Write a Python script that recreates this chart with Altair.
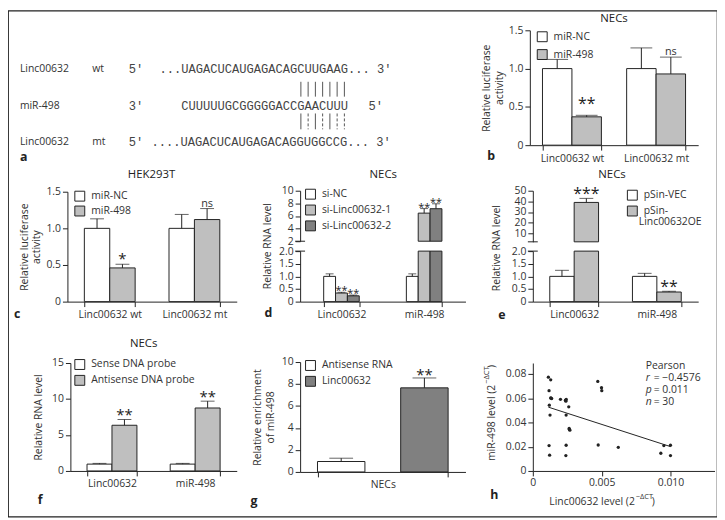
import altair as alt
import pandas as pd

# ---------------- data ----------------
b_cats = ["Linc00632 wt", "Linc00632 mt"]
b_series = ["miR-NC", "miR-498"]
b_vals = [1.00, 0.37, 1.00, 0.93]
b_errs = [0.12, 0.02, 0.27, 0.22]
b_sig = ["", "**", "", "ns"]

c_cats = ["Linc00632 wt", "Linc00632 mt"]
c_series = ["miR-NC", "miR-498"]
c_vals = [1.00, 0.46, 1.00, 1.12]
c_errs = [0.13, 0.05, 0.19, 0.15]
c_sig = ["", "*", "", "ns"]

d_cats = ["Linc00632", "miR-498"]
d_series = ["si-NC", "si-Linc00632-1", "si-Linc00632-2"]
d_vals = [1.00, 0.34, 0.23, 1.00, 6.45, 7.15]
d_errs = [0.10, 0.03, 0.03, 0.10, 0.72, 0.78]
d_sig = ["", "**", "**", "", "**", "**"]

e_cats = ["Linc00632", "miR-498"]
e_series = ["pSin-VEC", "pSin-Linc00632OE"]
e_vals = [1.00, 39.0, 1.00, 0.38]
e_errs = [0.24, 3.8, 0.12, 0.03]
e_sig = ["", "***", "", "**"]

f_cats = ["Linc00632", "miR-498"]
f_series = ["Sense DNA probe", "Antisense DNA probe"]
f_vals = [0.95, 6.35, 0.95, 8.75]
f_errs = [0.10, 0.80, 0.10, 0.95]
f_sig = ["", "**", "", "**"]

g_cats = ["NECs"]
g_series = ["Antisense  RNA", "Linc00632"]
g_vals = [0.95, 7.65]
g_errs = [0.30, 0.90]
g_sig = ["", "**"]

h_x = [0.00113, 0.00130, 0.00118, 0.00130, 0.00137, 0.00120, 0.00125, 0.00118,
       0.00122, 0.00201, 0.00237, 0.00240, 0.00261, 0.00242, 0.00264, 0.00269,
       0.00242, 0.00240, 0.00472, 0.00499, 0.00501, 0.00475, 0.00621, 0.00952,
       0.00930, 0.01000, 0.01000, 0.00133, 0.00243, 0.00266]
h_y = [0.0773, 0.0751, 0.0662, 0.0602, 0.0597, 0.0542, 0.0461, 0.0209,
       0.0130, 0.0591, 0.0583, 0.0575, 0.0529, 0.0461, 0.0350, 0.0336,
       0.0212, 0.0127, 0.0738, 0.0686, 0.0662, 0.0214, 0.0195, 0.0209,
       0.0146, 0.0212, 0.0127, 0.0600, 0.0590, 0.0343]

seq_wt = "...UAGACUCAUGAGACAGCUUGAAG... 3\u2032"
seq_mir = "CUUUUUGCGGGGGACCGAACUUU"
seq_mt = "....UAGACUCAUGAGACAGGUGGCCG... 3\u2032"
pair_idx = [16, 17, 18, 19, 20, 21, 22]
pair_mt_style = ["solid", "dashed", "solid", "dashed", "solid", "dashed", "dashed"]

# ---------------- style / layout ----------------
W, H = 716, 511
FONT = "Open Sans"
MONO = "Liberation Mono"
INK = "#222222"
TXT = "#333333"
LIGHT = "#bfbfbf"
DARK = "#808080"
FS = 10.5


def lab0(fmt):
    return f"datum.value == 0 ? '0' : format(datum.value, '{fmt}')"


def frame(cats, series, vals, errs, sig):
    rows, k = [], 0
    for c in cats:
        for s in series:
            rows.append({"cat": c, "series": s, "val": vals[k], "err": errs[k],
                         "top": round(vals[k] + errs[k], 4), "sig": sig[k]})
            k += 1
    return pd.DataFrame(rows)


def legend(L):
    return alt.Legend(orient="none", legendX=L["legX"], legendY=L["legY"], title=None,
                      rowPadding=L["rp"], labelExpr=L.get("lexpr", "datum.label"))


def seg(df, cats, series, colors, L, yr, ydom, yvals, yfmt=None, ytitle=None,
        tpad=4, bar_keep=None, err_keep=None, clamp=False):
    xs = alt.Scale(domain=cats, range=L["xr"], paddingInner=L["pi"], paddingOuter=L["po"])
    xax = alt.Axis(orient="bottom", offset=L["xoff"], tickBand="extent", labelPadding=3,
                   title=None, labelAngle=0)
    x = alt.X("cat:N", sort=cats, scale=xs, axis=xax)
    xo = alt.XOffset("series:N", sort=series,
                     scale=alt.Scale(domain=series, paddingInner=L["opi"], paddingOuter=0))
    ys = alt.Scale(domain=ydom, range=yr, nice=False, zero=False, clamp=clamp)
    yk = dict(orient="left", offset=-L["xr"][0], values=yvals, title=ytitle, titlePadding=tpad)
    if yfmt:
        yk["labelExpr"] = lab0(yfmt)
    yax = alt.Axis(**yk)
    yv = alt.Y("val:Q", scale=ys, axis=yax)
    yt = alt.Y("top:Q", scale=ys, axis=yax)
    base = alt.Chart(df)
    bsrc = base.transform_filter(bar_keep) if bar_keep else base
    bars = bsrc.mark_bar(stroke=INK, strokeWidth=1).encode(
        x=x, xOffset=xo, y=yv, y2=alt.datum(0),
        color=alt.Color("series:N", sort=series,
                        scale=alt.Scale(domain=series, range=colors), legend=legend(L)))
    eb = base.transform_filter(err_keep) if err_keep else base
    rule = eb.mark_rule(color=INK, strokeWidth=1).encode(x=x, xOffset=xo, y=yt, y2="val:Q")
    cap = eb.mark_tick(color=INK, size=L["cap"], thickness=1).encode(x=x, xOffset=xo, y=yt)
    stars = eb.transform_filter("datum.sig != '' && datum.sig != 'ns'").mark_text(
        fontSize=L["sfs"], dy=L["sdy"], baseline="alphabetic", color=INK).encode(
        x=x, xOffset=xo, y=yt, text="sig:N")
    ns = eb.transform_filter("datum.sig == 'ns'").mark_text(
        fontSize=FS + 0.5, dy=-2, baseline="alphabetic", color=TXT).encode(
        x=x, xOffset=xo, y=yt, text="sig:N")
    return alt.layer(bars, rule, cap, stars, ns)


def notes(items, **props):
    df = pd.DataFrame(items, columns=["t", "px", "py"])
    return alt.Chart(df).mark_text(**props).encode(
        x=alt.X("px:Q", scale=None, axis=None),
        y=alt.Y("py:Q", scale=None, axis=None),
        text="t:N")


def hbar(x0, x1, y):
    return alt.Chart(pd.DataFrame({"k": [0]})).mark_rule(color=INK, strokeWidth=1).encode(
        x=alt.value(x0), x2=alt.value(x1), y=alt.value(y))


# panel layouts (chart pixel coordinates)
LB = dict(xr=[527, 697], pi=0.3, po=0.15, opi=0, xoff=136 - H, cap=22, sfs=16, sdy=-6,
          legX=534, legY=21, rp=3)
LC = dict(xr=[60, 231], pi=0.4, po=0.2, opi=0, xoff=294 - H, cap=14, sfs=15, sdy=0,
          legX=67, legY=182, rp=0)
LD = dict(xr=[295, 462], pi=0.57, po=0.285, opi=0, xoff=294 - H, cap=8, sfs=11, sdy=2,
          legX=300, legY=180, rp=1)
LE = dict(xr=[530, 697], pi=0.41, po=0.205, opi=0, xoff=294 - H, cap=14, sfs=16, sdy=1,
          legX=625, legY=181, rp=1,
          lexpr="datum.label == 'pSin-Linc00632OE' ? 'pSin-' : datum.label")
LF = dict(xr=[63, 231], pi=0.4, po=0.2, opi=0, xoff=465 - H, cap=14, sfs=15, sdy=1,
          legX=67, legY=352, rp=1)
LG = dict(xr=[295, 462], pi=0.0, po=0.133, opi=0.43, xoff=466 - H, cap=24, sfs=15, sdy=2,
          legX=300, legY=353, rp=1)

# ---------------- panels ----------------
two = [0, 0.5, 1.0, 1.5]
pb = seg(frame(b_cats, b_series, b_vals, b_errs, b_sig), b_cats, b_series, ["white", LIGHT],
         LB, [136, 20], [0, 1.5], two, ".1f", ["Relative luciferase", "activity"], 4)
pc = seg(frame(c_cats, c_series, c_vals, c_errs, c_sig), c_cats, c_series, ["white", LIGHT],
         LC, [294, 183], [0, 1.5], two, ".1f", ["Relative luciferase", "activity"], 4)

d_df = frame(d_cats, d_series, d_vals, d_errs, d_sig)
d_cols = ["white", LIGHT, DARK]
pd_up = seg(d_df, d_cats, d_series, d_cols, LD, [233, 182], [2, 10], [2, 4, 6, 8, 10],
            bar_keep="datum.val >= 2", err_keep="datum.val >= 2", clamp=True)
pd_lo = seg(d_df, d_cats, d_series, d_cols, LD, [294, 243], [0, 2], [0, 0.5, 1, 1.5, 2], ".1f",
            err_keep="datum.top <= 2", clamp=True)
pdd = alt.layer(pd_up, pd_lo).resolve_scale(y="independent")

e_df = frame(e_cats, e_series, e_vals, e_errs, e_sig)
e_cols = ["white", LIGHT]
pe_up = seg(e_df, e_cats, e_series, e_cols, LE, [233.6, 182], [2, 50], [10, 20, 30, 40, 50],
            bar_keep="datum.val >= 2", err_keep="datum.val >= 2", clamp=True)
pe_lo = seg(e_df, e_cats, e_series, e_cols, LE, [294, 243], [0, 2], [0, 0.5, 1, 1.5, 2], ".1f",
            err_keep="datum.top <= 2", clamp=True)
pe = alt.layer(pe_up, pe_lo).resolve_scale(y="independent")

pf = seg(frame(f_cats, f_series, f_vals, f_errs, f_sig), f_cats, f_series, ["white", LIGHT],
         LF, [465, 356], [0, 15], [0, 5, 10, 15], None, "Relative RNA level", 8)
pg = seg(frame(g_cats, g_series, g_vals, g_errs, g_sig), g_cats, g_series, ["white", DARK],
         LG, [466, 355], [0, 10], [0, 2, 4, 6, 8, 10], None,
         ["Relative enrichment", "of miR-498"], 6)

# scatter h
h_df = pd.DataFrame({"x": h_x, "y": h_y})
hx = alt.X("x:Q", scale=alt.Scale(domain=[0, 0.0132], range=[530, 713.5], nice=False, zero=False),
           axis=alt.Axis(orient="bottom", offset=465 - H, values=[0, 0.005, 0.01],
                         labelExpr=lab0(".3f"), title=None, labelFlush=False))
hy = alt.Y("y:Q", scale=alt.Scale(domain=[0, 0.089], range=[465, 356], nice=False, zero=False),
           axis=alt.Axis(orient="left", offset=-530, values=[0, 0.02, 0.04, 0.06, 0.08],
                         labelExpr=lab0(".2f"), title=None))
ph = alt.layer(
    alt.Chart(h_df).mark_circle(size=11, color=INK, opacity=1).encode(x=hx, y=hy),
    alt.Chart(h_df).transform_regression("x", "y").mark_line(color=INK, strokeWidth=1).encode(x=hx, y=hy),
)

# panel a: pairing lines on a character-position scale
pairs = pd.DataFrame({"pos": [i + 0.5 for i in pair_idx], "style": pair_mt_style})
ax_scale = alt.Scale(domain=[0, 23], range=[175, 175 + 7.32 * 23], nice=False, zero=False)
ax_enc = alt.X("pos:Q", scale=ax_scale, axis=None)
pa = alt.layer(
    alt.Chart(pairs).mark_rule(color="#555", strokeWidth=1).encode(
        x=ax_enc, y=alt.value(72), y2=alt.value(87)),
    alt.Chart(pairs).transform_filter("datum.style == 'solid'").mark_rule(
        color="#555", strokeWidth=1).encode(x=ax_enc, y=alt.value(104), y2=alt.value(120)),
    alt.Chart(pairs).transform_filter("datum.style == 'dashed'").mark_rule(
        color="#555", strokeWidth=1, strokeDash=[3, 2]).encode(
        x=ax_enc, y=alt.value(104), y2=alt.value(120)),
)

# ---------------- text ----------------
a_sans = notes([("Linc00632", 12, 59), ("wt", 85, 59), ("miR-498", 12, 96),
                ("Linc00632", 12, 133), ("mt", 85, 133)],
               fontSize=FS, align="left", baseline="middle", color=TXT)
a_mono = notes([("5\u2032", 122, 59), (seq_wt, 153, 59), ("3\u2032", 122, 96), (seq_mir, 175, 96),
                ("5\u2032", 364, 96), ("5\u2032", 122, 133), (seq_mt, 145, 133)],
               fontSize=12.2, font=MONO, align="left", baseline="middle", color="#444")
titles = notes([("NECs", 612, 9), ("HEK293T", 145, 166), ("NECs", 379, 166),
                ("NECs", 610, 166), ("NECs", 137, 337)],
               fontSize=11.5, align="center", baseline="middle", color=INK)
letters = notes([("a", 12, 148), ("b", 484, 147), ("c", 6, 307), ("d", 259, 306),
                 ("e", 495, 308), ("f", 30, 494), ("g", 245, 495), ("h", 487, 489)],
                fontSize=12.5, fontWeight="bold", align="left", baseline="middle", color=INK)
ytitles = notes([("Relative RNA level", 263, 238), ("Relative RNA level", 494, 240)],
                fontSize=FS, angle=270, align="center", baseline="middle", color=TXT)
e_wrap = notes([("Linc00632OE", 637, 213.5)], fontSize=FS, align="left", baseline="middle", color=TXT)

h_main = notes([("Linc00632 level (2", 633, 496)], fontSize=FS, align="right", baseline="middle", color=TXT)
h_sup = notes([("\u2212\u0394CT", 634, 491)], fontSize=7.5, align="left", baseline="middle", color=TXT)
h_close = notes([(")", 650, 496)], fontSize=FS, align="left", baseline="middle", color=TXT)
hy_main = notes([("miR-498 level (2", 489, 378)], fontSize=FS, angle=270, align="right",
                baseline="middle", color=TXT)
hy_sup = notes([("\u2212\u0394CT", 484, 377)], fontSize=7.5, angle=270, align="left",
               baseline="middle", color=TXT)
hy_close = notes([(")", 489, 361)], fontSize=FS, angle=270, align="left", baseline="middle", color=TXT)
pear = notes([("Pearson", 644, 359)], fontSize=FS, align="left", baseline="middle", color=TXT)
pear_l = notes([("r", 644, 371), ("p", 644, 383), ("n", 644, 395)], fontSize=FS, fontStyle="italic",
               align="left", baseline="middle", color=TXT)
pear_v = notes([("= \u22120.4576", 652, 371), ("= 0.011", 652, 383), ("= 30", 652, 395)],
               fontSize=FS, align="left", baseline="middle", color=TXT)

breaks = [hbar(290, 300, 233), hbar(290, 300, 243), hbar(525, 535, 233.6), hbar(525, 535, 243)]

chart = alt.layer(
    pa, pb, pc, pdd, pe, pf, pg, ph,
    a_sans, a_mono, titles, letters, ytitles, e_wrap,
    h_main, h_sup, h_close, hy_main, hy_sup, hy_close, pear, pear_l, pear_v,
    *breaks,
).resolve_scale(
    x="independent", y="independent", color="independent", xOffset="independent"
).properties(
    width=W, height=H, autosize=alt.AutoSizeParams(type="none"), padding=0
).configure(
    font=FONT
).configure_view(
    stroke=INK, strokeWidth=1.2
).configure_axis(
    domainColor=INK, tickColor=INK, labelColor=TXT, titleColor=TXT, labelFontSize=FS,
    titleFontSize=FS, titleFontWeight="normal", grid=False, tickSize=5, labelPadding=2,
    labelFont=FONT, titleFont=FONT
).configure_legend(
    symbolType="square", symbolSize=100, symbolStrokeColor=INK, symbolStrokeWidth=1,
    labelFontSize=FS, labelColor=TXT, labelFont=FONT, padding=0, labelOffset=6,
    symbolOpacity=1
)

chart.save("out.html", embed_options={"renderer": "svg", "actions": False})
